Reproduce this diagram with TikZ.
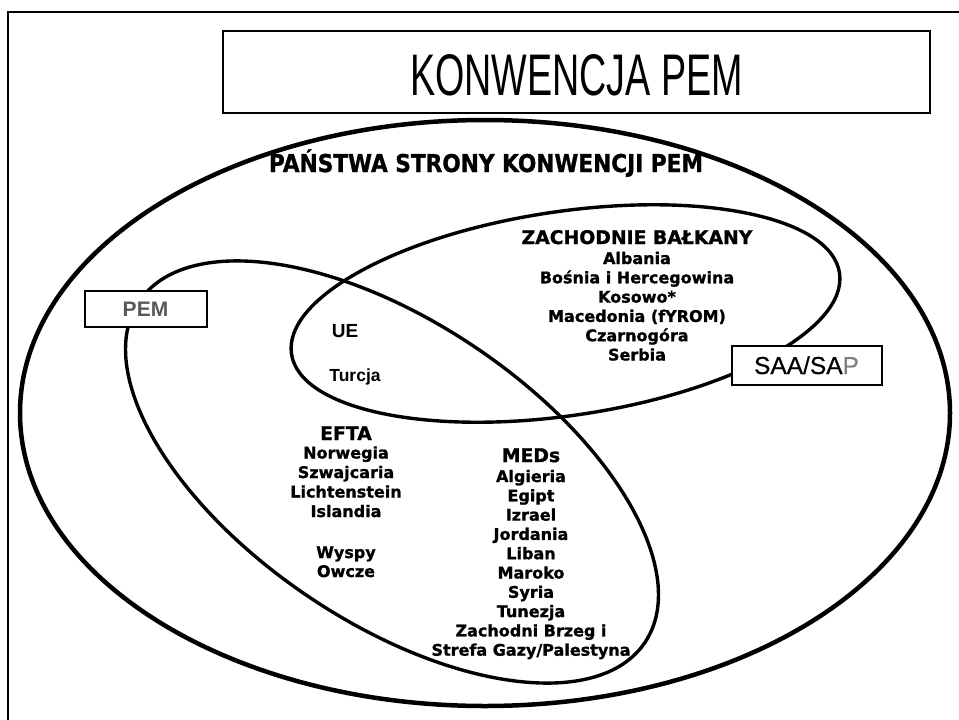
\documentclass[tikz,border=0pt]{standalone}
\usepackage{fontspec}
\usepackage{graphicx}
\setmainfont{DejaVu Sans}
\newfontfamily\dv{DejaVu Sans}[BoldFeatures={FakeBold=1.2}]
\newfontfamily\lib{Liberation Sans}
\newfontfamily\libsb{Liberation Sans}[FakeBold=0.6]
\definecolor{pemgray}{gray}{0.35}
\definecolor{pgray}{gray}{0.5}
\tikzset{
  lst/.style={font=\dv\bfseries\fontsize{16}{19}\selectfont, anchor=base, inner sep=0},
  hd/.style={font=\dv\bfseries\fontsize{18.8}{22}\selectfont, anchor=base, inner sep=0},
  outerell/.style={line width=4.5},
  innerell/.style={line width=3.4},
  labelbox/.style={draw, line width=1.3, fill=white, inner sep=0},
}
\begin{document}
\begin{tikzpicture}[x=1pt,y=-1pt]
\useasboundingbox (0,0) rectangle (959,720);
\fill[white] (0,0) rectangle (959,720);
% frame
\draw[line width=2.5] (8,720) -- (8,12) -- (959,12);
% title
\node[labelbox, minimum width=707, minimum height=82] (titlebox) at (576.5,72) {};
\node[font=\lib\fontsize{58.7}{62}\selectfont, anchor=base, inner sep=0] (title) at (576.5,95) {\scalebox{0.642}[1]{KONWENCJA PEM}};
% ellipses
\draw[outerell] (485,413) ellipse [x radius=465, y radius=293];
\draw[innerell, rotate around={-34:(392,472)}] (392,472) ellipse [x radius=305, y radius=150];
\draw[innerell, rotate around={8.4:(565.5,313.5)}] (565.5,313.5) ellipse [x radius=277, y radius=102];
% outer label
\node[font=\dv\bfseries\fontsize{24.5}{28}\selectfont, anchor=base, inner sep=0] (states) at (486,172) {\scalebox{0.884}[1]{PAŃSTWA STRONY KONWENCJI PEM}};
% boxes
\node[labelbox, minimum width=122, minimum height=36] (pembox) at (146,309) {};
\node[font=\lib\bfseries\fontsize{21}{24}\selectfont, text=pemgray, anchor=base, inner sep=0] (pem) at (145.5,316) {PEM};
\node[labelbox, minimum width=150, minimum height=39] (saabox) at (807,365.5) {};
\node[font=\libsb\fontsize{24.5}{28}\selectfont, anchor=base, inner sep=0] (saa) at (806.5,374) {SAA/SA\textcolor{pgray}{P}};
% UE
\node[font=\lib\bfseries\fontsize{19}{22}\selectfont, anchor=base, inner sep=0] (ue) at (345,337) {UE};
\node[font=\lib\bfseries\fontsize{17.5}{20}\selectfont, anchor=base, inner sep=0] (turcja) at (355,381) {Turcja};
% Western Balkans
\node[hd] (wb) at (637,244) {ZACHODNIE BAŁKANY};
\foreach \t/\y [count=\i] in {Albania/264, Bośnia i Hercegowina/283.3, Kosowo*/302.6, Macedonia (fYROM)/321.9, Czarnogóra/341.2, Serbia/360.5}
  \node[lst] (wb\i) at (637,\y) {\t};
% EFTA
\node[hd] (efta) at (346,440) {EFTA};
\foreach \t/\y [count=\i] in {Norwegia/458.5, Szwajcaria/478, Lichtenstein/497.5, Islandia/517, Wyspy/558, Owcze/577}
  \node[lst] (efta\i) at (346,\y) {\t};
% MEDs
\node[hd] (meds) at (531,462) {MEDs};
\foreach \t/\y [count=\i] in {Algieria/482, Egipt/501.3, Izrael/520.6, Jordania/539.9, Liban/559.2, Maroko/578.5, Syria/597.8, Tunezja/617.1, {Zachodni Brzeg i}/636.4, {Strefa Gazy/Palestyna}/655.7}
  \node[lst] (meds\i) at (531,\y) {\t};
\end{tikzpicture}
\end{document}
